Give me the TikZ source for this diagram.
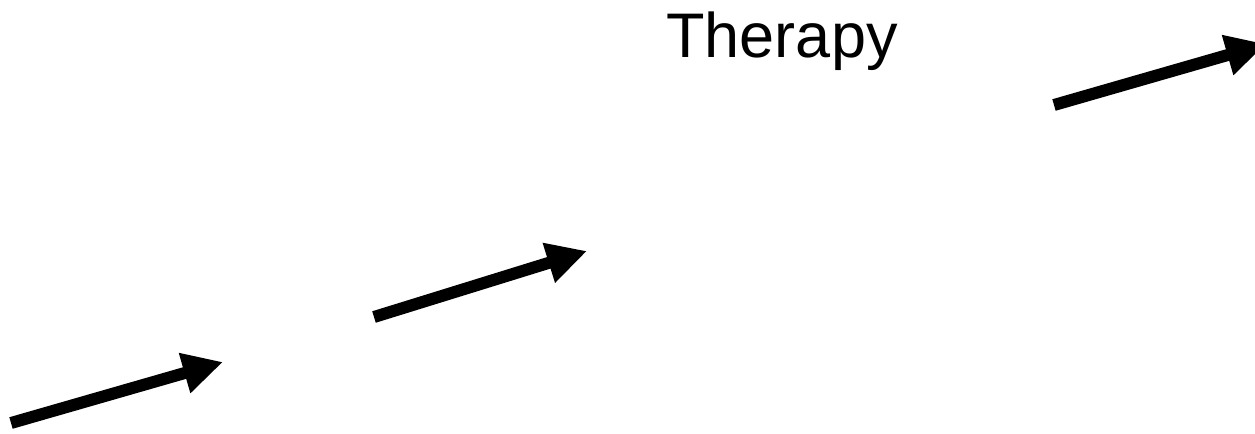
\documentclass[tikz,border=0pt]{standalone}
\usepackage{fontspec}
\setmainfont{Liberation Sans}
\usetikzlibrary{arrows.meta}

\begin{document}
\begin{tikzpicture}[x=0.5pt,y=-0.5pt,
        bigarrow/.style={line width=6pt,-{Triangle[length=20pt,width=19.5pt]}}]
        % fix the page size
        \useasboundingbox (0,0) rectangle (1255,434);

        % the label
        \node[anchor=base,inner sep=0pt,font=\fontsize{31.5}{36}\selectfont] (therapy) at (782,57) {Therapy};

        % draw the arrows
        \foreach \i/\sx/\sy/\ex/\ey in {1/11/423/223/362, 2/374/317/587/251, 3/1054/105/1266/44} {
                \coordinate (tail\i) at (\sx,\sy);
                \coordinate (tip\i) at (\ex,\ey);
                \draw[bigarrow] (tail\i) -- (tip\i);
        }

\end{tikzpicture}
\end{document}
